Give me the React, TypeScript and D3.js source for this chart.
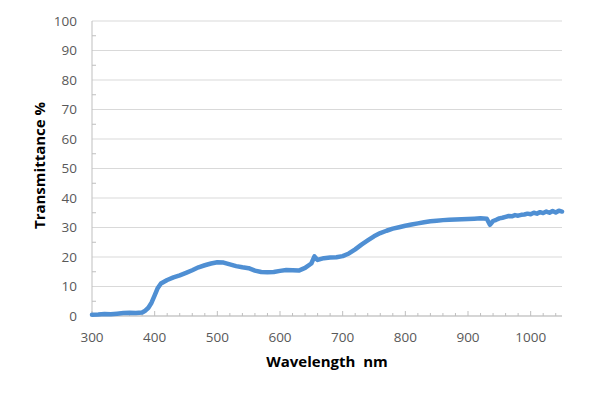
import React from "react";
import * as d3 from "d3";

// wavelength (nm) and transmittance (%)
const wavelengths = [
  300, 310, 320, 330, 340, 350, 360, 370, 380, 385, 390, 395, 400, 405, 410, 420, 430, 440, 450,
  460, 470, 480, 490, 500, 510, 520, 530, 540, 550, 560, 570, 580, 590, 600, 610, 620, 630, 640,
  650, 655, 660, 670, 680, 690, 700, 710, 720, 730, 740, 750, 760, 770, 780, 790, 800, 810, 820,
  830, 840, 850, 860, 870, 880, 890, 900, 910, 920, 930, 935, 940, 945, 950, 955, 960, 965, 970,
  975, 980, 985, 990, 995, 1000, 1005, 1010, 1015, 1020, 1025, 1030, 1035, 1040, 1045, 1050,
];
const transmittance = [
  0.4, 0.5, 0.7, 0.6, 0.8, 1.0, 1.1, 1.0, 1.2, 1.8, 2.8, 4.5, 7.0, 9.5, 11.0, 12.2, 13.1, 13.8, 14.6,
  15.5, 16.5, 17.2, 17.8, 18.2, 18.1, 17.5, 16.9, 16.5, 16.2, 15.4, 14.9, 14.8, 14.9, 15.3, 15.6, 15.5, 15.4, 16.3,
  17.8, 20.2, 19.0, 19.6, 19.8, 19.9, 20.3, 21.2, 22.6, 24.2, 25.6, 27.0, 28.1, 28.9, 29.6, 30.1, 30.6, 31.0, 31.4,
  31.8, 32.1, 32.3, 32.5, 32.6, 32.7, 32.8, 32.9, 33.0, 33.1, 33.0, 30.9, 32.2, 32.6, 33.1, 33.3, 33.6, 33.9, 33.8,
  34.2, 34.0, 34.3, 34.4, 34.7, 34.5, 35.0, 34.7, 35.2, 34.9, 35.4, 35.0, 35.6, 35.1, 35.7, 35.4,
];
const xTicks = [300, 400, 500, 600, 700, 800, 900, 1000];
const yTicks = [0, 10, 20, 30, 40, 50, 60, 70, 80, 90, 100];

const W = 600;
const H = 397;
const margin = { left: 92, right: 38, top: 21, bottom: 81 };

export default function App() {
  const x = d3.scaleLinear().domain([300, 1050]).range([margin.left, W - margin.right]);
  const y = d3.scaleLinear().domain([0, 100]).range([H - margin.bottom, margin.top]);

  const pts = wavelengths.map((w, i) => [w, transmittance[i]] as [number, number]);
  const line = d3.line<[number, number]>()
    .x(d => x(d[0]))
    .y(d => y(d[1]));

  const minorX = d3.range(300, 1051, 20);
  const minorY = d3.range(5, 100, 10);
  const font = "'Open Sans', 'Liberation Sans', sans-serif";

  return (
    <svg width={W} height={H} style={{ position: "absolute", left: 0, top: 0, background: "#fff" }}>
      {yTicks.map(t => (
        <line key={"g" + t} x1={x(300)} x2={x(1050)} y1={y(t)} y2={y(t)} stroke="#d9d9d9" strokeWidth={1} />
      ))}
      <line x1={x(300)} x2={x(300)} y1={y(0)} y2={y(100)} stroke="#bfbfbf" />
      <line x1={x(300)} x2={x(1050)} y1={y(0)} y2={y(0)} stroke="#bfbfbf" />
      {minorX.map(t => (
        <line key={"mx" + t} x1={x(t)} x2={x(t)} y1={y(0)} y2={y(0) - (t % 100 === 0 ? 5 : 3)} stroke="#bfbfbf" />
      ))}
      {minorY.map(t => (
        <line key={"my" + t} x1={x(300)} x2={x(300) + 4} y1={y(t)} y2={y(t)} stroke="#bfbfbf" />
      ))}
      <path d={line(pts) || ""} fill="none" stroke="#4f8fd3" strokeWidth={4.5} strokeLinejoin="round" strokeLinecap="round" />
      {yTicks.map(t => (
        <text key={"yl" + t} x={77} y={y(t)} dy="0.35em" textAnchor="end" fontSize={13.5} fill="#595959" fontFamily={font}>
          {t}
        </text>
      ))}
      {xTicks.map(t => (
        <text key={"xl" + t} x={x(t)} y={y(0) + 21} dy="0.35em" textAnchor="middle" fontSize={13.5} fill="#595959" fontFamily={font}>
          {t}
        </text>
      ))}
      <text x={(x(300) + x(1050)) / 2} y={362} dy="0.35em" textAnchor="middle" fontSize={15} fontWeight="bold" fill="#000" fontFamily={font} style={{ whiteSpace: "pre" }}>
        {"Wavelength  nm"}
      </text>
      <text transform={`translate(40,${(y(0) + y(100)) / 2 - 3}) rotate(-90)`} dy="0.35em" textAnchor="middle" fontSize={15} fontWeight="bold" fill="#000" fontFamily={font}>
        Transmittance %
      </text>
    </svg>
  );
}
